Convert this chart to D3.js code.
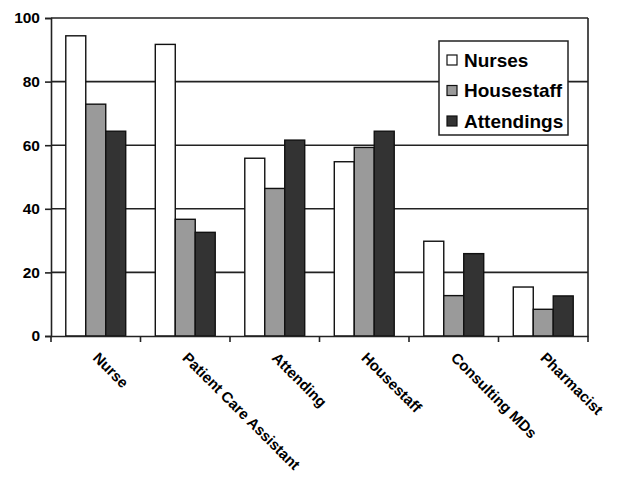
<!DOCTYPE html>
<html><head><meta charset="utf-8">
<script src="https://cdn.jsdelivr.net/npm/d3@7"></script>
<style>body{margin:0;background:#fff}text{font-family:"Liberation Sans",Arial,sans-serif;font-weight:bold;fill:#000}</style>
</head><body><svg id="c" width="631" height="483"></svg>
<script>
const categories = ["Nurse","Patient Care Assistant","Attending","Housestaff","Consulting MDs","Pharmacist"];
const seriesNames = ["Nurses","Housestaff","Attendings"];
const nurses = [94.4, 91.7, 55.9, 54.8, 29.8, 15.4];
const housestaff = [72.9, 36.7, 46.4, 59.3, 12.7, 8.4];
const attendings = [64.4, 32.6, 61.6, 64.4, 25.9, 12.6];
const yTicks = [0,20,40,60,80,100];
const colors = ["#ffffff","#9a9a9a","#333333"];
const series = [nurses, housestaff, attendings];

const svg = d3.select("#c");
const L=51, R=588, T=18, B=336;
const x = d3.scaleBand().domain(categories).range([L,R]).paddingInner(0).paddingOuter(0);
const x1 = d3.scaleBand().domain(seriesNames).range([0, x.bandwidth()]).paddingOuter(0.74).paddingInner(0);
const y = d3.scaleLinear().domain([0,100]).range([B,T]);

// gridlines
svg.append("g").selectAll("line").data(yTicks.filter(d=>d>0)).join("line")
  .attr("x1",L).attr("x2",R).attr("y1",d=>y(d)).attr("y2",d=>y(d))
  .attr("stroke","#222").attr("stroke-width",1.6);
// right border
svg.append("line").attr("x1",R).attr("x2",R).attr("y1",T).attr("y2",B).attr("stroke","#222").attr("stroke-width",1.6);

// bars
const g = svg.append("g");
categories.forEach((c,i)=>{
  series.forEach((s,j)=>{
    g.append("rect").attr("x",x(c)+x1(seriesNames[j])).attr("y",y(s[i]))
     .attr("width",x1.bandwidth()).attr("height",B-y(s[i]))
     .attr("fill",colors[j]).attr("stroke","#111").attr("stroke-width",1.4);
  });
});

// y axis
const ya = svg.append("g").attr("transform",`translate(${L},0)`)
  .call(d3.axisLeft(y).tickValues(yTicks).tickSize(6).tickPadding(5));
ya.select(".domain").attr("stroke","#222").attr("stroke-width",1.6);
ya.selectAll(".tick line").attr("stroke","#222").attr("stroke-width",1.6);
ya.selectAll("text").style("font-size","15.5px").style("font-weight","bold").attr("fill","#000");

// x axis
const xa = svg.append("g").attr("transform",`translate(0,${B})`)
  .call(d3.axisBottom(x).tickSize(0).tickFormat(""));
xa.select(".domain").attr("stroke","#222").attr("stroke-width",1.6);
const edges = categories.map(c=>x(c)).concat([R]);
xa.selectAll(".edge").data(edges).join("line").attr("class","edge")
  .attr("x1",d=>d).attr("x2",d=>d).attr("y1",0).attr("y2",6).attr("stroke","#222").attr("stroke-width",1.6);
xa.selectAll(".lbl").data(categories).join("text").attr("class","lbl")
  .attr("transform",d=>`translate(${x(d)+x.bandwidth()/2},${19}) rotate(45)`)
  .attr("text-anchor","start").attr("dy","0.35em")
  .style("font-size","15px").text(d=>d);

// legend
const lg = svg.append("g");
lg.append("rect").attr("x",439).attr("y",41).attr("width",129).attr("height",94)
  .attr("fill","#fff").attr("stroke","#222").attr("stroke-width",1.5);
seriesNames.forEach((n,j)=>{
  const cy = 60 + j*30.5;
  lg.append("rect").attr("x",447).attr("y",cy-5).attr("width",10).attr("height",10)
    .attr("fill",colors[j]).attr("stroke","#111").attr("stroke-width",1.2);
  lg.append("text").attr("x",464).attr("y",cy+6.5).style("font-size","19px").text(n);
});
</script></body></html>
